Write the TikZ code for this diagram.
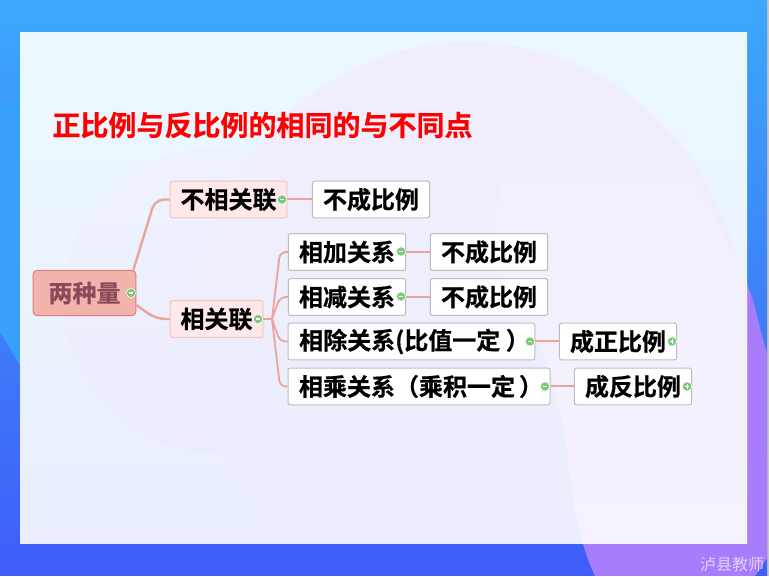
\documentclass[tikz,border=0pt]{standalone}
\usepackage{fontspec}
\setmainfont[BoldFont={Noto Sans CJK SC Bold},BoldFeatures={FakeBold=0.6}]{Noto Sans CJK SC}
\usetikzlibrary{calc}
\definecolor{bgtop}{HTML}{3CA8FC}
\definecolor{bgbot}{HTML}{3F5CF8}
\definecolor{bgleft}{HTML}{38A0FA}
\definecolor{violet}{HTML}{A77CFD}
\definecolor{pantop}{HTML}{EBF8FF}
\definecolor{panbot}{HTML}{EAEEFE}
\definecolor{blobtop}{HTML}{F1EEFC}
\definecolor{blobmid}{HTML}{EEEEFD}
\definecolor{lefttop}{HTML}{EEF2FE}
\definecolor{leftbot}{HTML}{ECECFD}
\definecolor{lavtop}{HTML}{F2EFFD}
\definecolor{lav}{HTML}{F5F1FE}
\definecolor{linkc}{HTML}{E9A59C}
\definecolor{mark}{HTML}{7CC97A}
\definecolor{pinkline}{HTML}{F3C3BC}
\definecolor{pinkfill}{HTML}{FEE9E8}
\definecolor{rootfill}{HTML}{F3B3AD}
\definecolor{rootline}{HTML}{D97F7C}
\definecolor{roottext}{HTML}{8B4A5A}
\definecolor{boxline}{HTML}{BDBDBD}
\newcommand{\dn}[1]{\raisebox{-1.9pt}{#1}}
\newcommand{\purplepath}{(595,576) .. controls (580,545) and (572,500) .. (567,450)
     .. controls (560,400) and (550,365) .. (537,345)
     .. controls (505,300) and (485,255) .. (500,190)
     .. controls (520,130) and (560,103) .. (590,103)
     .. controls (650,103) and (720,210) .. (753,300)
     .. controls (758,320) and (763,340) .. (769,360) -- (769,555) -- (755,576) -- cycle}
\tikzset{
  x=0.75pt,y=-0.75pt,
  nodetext/.style={font=\bfseries\fontsize{18pt}{20pt}\selectfont,inner sep=0pt,rounded corners=1.5pt,line width=.75pt},
  whitebox/.style={nodetext,draw=boxline,fill=white,text=black,minimum height=27.4pt},
  pinkbox/.style={nodetext,draw=pinkline,fill=pinkfill,text=black,minimum height=27.4pt},
  rootbox/.style={nodetext,draw=rootline,fill=rootfill,text=roottext,minimum height=34pt,rounded corners=3pt},
  link/.style={draw=linkc,line width=1.35pt,rounded corners=4.5pt},
  biglink/.style={draw=linkc,line width=1.8pt,rounded corners=7pt},
  minusmark/.style={circle,fill=mark,draw=white,line width=.4pt,inner sep=0pt,minimum size=7pt,
    path picture={\draw[white,line width=.8pt] ($(path picture bounding box.west)!.25!(path picture bounding box.east)$) -- ($(path picture bounding box.west)!.75!(path picture bounding box.east)$);}},
}
\begin{document}
\begin{tikzpicture}
\useasboundingbox (0,0) rectangle (769,576);
\fill[black!5!gray!45] (0,0) rectangle (769,576);
\begin{scope}
  \clip (0,0) rectangle (767,575);
  \shade[top color=bgtop,bottom color=bgbot] (0,0) rectangle (767,575);
  \fill[bgleft] (0,105) -- (20,97) -- (20,365) -- (0,332) -- cycle;
  \fill[violet] \purplepath;
\end{scope}
\shade[top color=pantop,bottom color=panbot] (20,32) rectangle (747,543);
\begin{scope}
  \clip (20,32) rectangle (747,543);
  \shade[top color=lefttop,bottom color=leftbot] (215,300) circle[radius=152];
  \shade[top color=blobtop,middle color=blobmid,bottom color=panbot] (470,330) ellipse[x radius=275,y radius=288];
  \shade[top color=lavtop,bottom color=lav] \purplepath;
\end{scope}
\node[font=\bfseries\fontsize{21pt}{24pt}\selectfont,text=red,inner sep=0pt] (title) at (262.5,125) {正比例与反比例的相同的与不同点};

\node[rootbox,minimum width=77pt] (root) at (84.5,293) {\dn{两种量}};
\node[pinkbox,minimum width=87.5pt] (n1) at (228.5,199.5) {\dn{不相关联}};
\node[pinkbox,minimum width=69.5pt] (n2) at (216.5,319) {\dn{相关联}};
\node[whitebox,minimum width=88pt] (nw) at (371,199.5) {\dn{不成比例}};
\node[whitebox,minimum width=88pt] (a) at (347,252) {\dn{相加关系}};
\node[whitebox,minimum width=88pt] (b) at (347,297) {\dn{相减关系}};
\node[whitebox,minimum width=185pt] (c) at (411.5,341.5) {\hspace*{4.5pt}\dn{相除关系(比值一定 ）}};
\node[whitebox,minimum width=196.5pt] (d) at (419,386.5) {\hspace*{3pt}\dn{相乘关系（乘积一定\hspace{3pt}）}};
\node[whitebox,minimum width=88pt] (a2) at (489,252) {\dn{不成比例}};
\node[whitebox,minimum width=88pt] (b2) at (489,297) {\dn{不成比例}};
\node[whitebox,minimum width=88pt] (c2) at (618,341.5) {\dn{成正比例}};
\node[whitebox,minimum width=88pt] (d2) at (633,386.5) {\dn{成反比例}};

\coordinate (r1) at (155,199.5);
\coordinate (r2) at (156,319);
\coordinate (hub) at (272,319);
\coordinate (ja) at (280,252);
\coordinate (jb) at (280,297);
\coordinate (jc) at (280,341.5);
\coordinate (jd) at (280,386.5);
\draw[biglink] ([xshift=-2.2pt]root.north east) -- (r1) -- (n1.west);
\draw[biglink] ([yshift=-9pt]root.east) -- (r2) -- (n2.west);
\draw[link] ([yshift=.3pt]n1.east) -- ([yshift=.3pt]nw.west);
\draw[link] (n2.east) -- (hub);
\draw[link] (hub) -- (ja) -- (a.west);
\draw[link] (hub) -- (jb) -- (b.west);
\draw[link] (hub) -- (jc) -- (c.west);
\draw[link] (hub) -- (jd) -- (d.west);
\draw[link] (a.east) -- (a2.west);
\draw[link] (b.east) -- (b2.west);
\draw[link] ([yshift=.3pt]c.east) -- ([yshift=.3pt]c2.west);
\draw[link] ([yshift=.3pt]d.east) -- ([yshift=.3pt]d2.west);

\node[minusmark] (m0) at (131,293) {};
\node[minusmark] (m1) at (282,199.5) {};
\node[minusmark] (m2) at (258,319) {};
\node[minusmark] (ma) at (401,251.5) {};
\node[minusmark] (mb) at (401,296.5) {};
\node[minusmark] (mc) at (530,341.5) {};
\node[minusmark] (md) at (545,386.5) {};
\node[minusmark] (pc) at (672,341.5) {};
\node[minusmark] (pd) at (687,386.5) {};
\draw[white,line width=.7pt] ([yshift=1.8pt]pc.center) -- ([yshift=-1.8pt]pc.center);
\draw[white,line width=.7pt] ([yshift=1.8pt]pd.center) -- ([yshift=-1.8pt]pd.center);

\node[font=\fontsize{12pt}{14pt}\selectfont,text=violet!35!white,inner sep=0pt] (wm) at (732,564) {泸县教师};
\end{tikzpicture}
\end{document}
